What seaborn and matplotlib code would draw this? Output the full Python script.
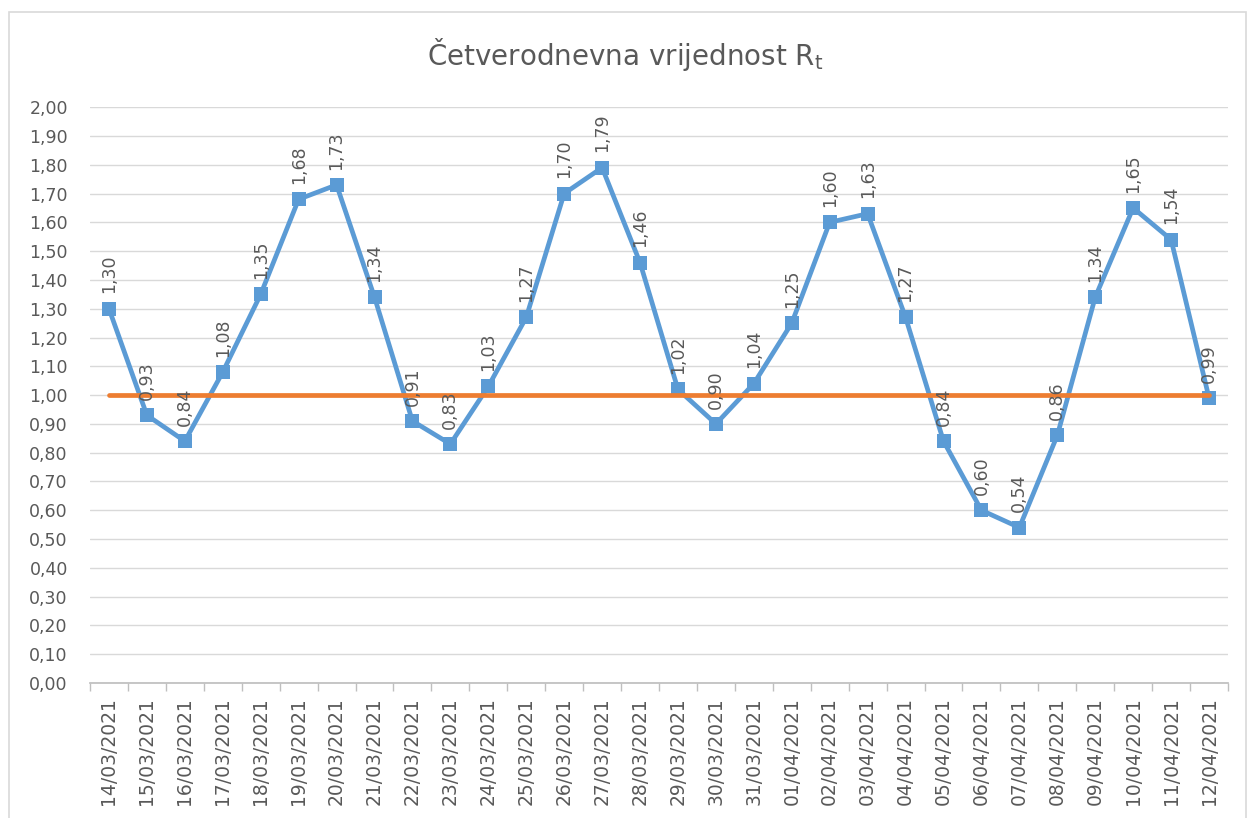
import matplotlib
matplotlib.use("Agg")
import matplotlib.pyplot as plt
import seaborn as sns
import pandas as pd

# data
dates = ["14/03/2021", "15/03/2021", "16/03/2021", "17/03/2021", "18/03/2021",
         "19/03/2021", "20/03/2021", "21/03/2021", "22/03/2021", "23/03/2021",
         "24/03/2021", "25/03/2021", "26/03/2021", "27/03/2021", "28/03/2021",
         "29/03/2021", "30/03/2021", "31/03/2021", "01/04/2021", "02/04/2021",
         "03/04/2021", "04/04/2021", "05/04/2021", "06/04/2021", "07/04/2021",
         "08/04/2021", "09/04/2021", "10/04/2021", "11/04/2021", "12/04/2021"]
rt_values = [1.30, 0.93, 0.84, 1.08, 1.35, 1.68, 1.73, 1.34, 0.91, 0.83,
             1.03, 1.27, 1.70, 1.79, 1.46, 1.02, 0.90, 1.04, 1.25, 1.60,
             1.63, 1.27, 0.84, 0.60, 0.54, 0.86, 1.34, 1.65, 1.54, 0.99]
threshold = 1.0
y_ticks = [i / 10 for i in range(21)]

df = pd.DataFrame({"x": range(len(dates)), "date": dates, "rt": rt_values})

sns.set_theme(style="white")
plt.rcParams["font.family"] = ["DejaVu Sans"]
plt.rcParams["mathtext.default"] = "regular"

text_col = "#595959"
blue = "#5B9BD5"
orange = "#ED7D31"

fig = plt.figure(figsize=(12.5, 8.18), dpi=100)
# chart area border
fig.patches.append(plt.Rectangle((0.0072, -0.01), 0.9896, 0.995, transform=fig.transFigure,
                                 fill=False, edgecolor="#D9D9D9", linewidth=1.2))
ax = fig.add_axes([0.072, 0.165, 0.9104, 0.704])

sns.lineplot(data=df, x="x", y="rt", ax=ax, color=blue, lw=3.4, marker="s",
             markersize=9.5, markeredgewidth=0, zorder=3)

# threshold line (drawn over the Rt series, like in the original)
ax.plot([df["x"].min(), df["x"].max()], [threshold, threshold], color=orange, lw=3.4, zorder=3.5)

# data labels
for xi, v in zip(df["x"], df["rt"]):
    ax.annotate(f"{v:.2f}".replace(".", ","), (xi, v), xytext=(0, 11),
                textcoords="offset points", rotation=90, ha="center", va="bottom",
                fontsize=12.5, color=text_col, zorder=4)

ax.set_xlim(-0.5, len(dates) - 0.5)
ax.set_ylim(0, 2.0)
ax.set_yticks(y_ticks)
ax.set_yticklabels([f"{t:.2f}".replace(".", ",") for t in y_ticks])
ax.set_xticks(df["x"])
ax.set_xticklabels(dates, rotation=90)
ax.set_xticks([i - 0.5 for i in range(len(dates) + 1)], minor=True)
ax.tick_params(axis="x", which="major", length=0, pad=10, labelsize=13.5, labelcolor=text_col)
ax.tick_params(axis="x", which="minor", length=6, color="#BFBFBF", direction="out", bottom=True)
ax.tick_params(axis="y", length=0, pad=16, labelsize=12.5, labelcolor=text_col)
ax.grid(axis="y", color="#D9D9D9", lw=1)
ax.set_axisbelow(True)
for s in ["top", "right", "left"]:
    ax.spines[s].set_visible(False)
ax.spines["bottom"].set_color("#BFBFBF")
ax.set_xlabel("")
ax.set_ylabel("")

fig.text(0.5, 0.933, r"Četverodnevna vrijednost R$_t$", ha="center", va="center",
         fontsize=20, color=text_col)

fig.savefig("out.png", dpi=100)
